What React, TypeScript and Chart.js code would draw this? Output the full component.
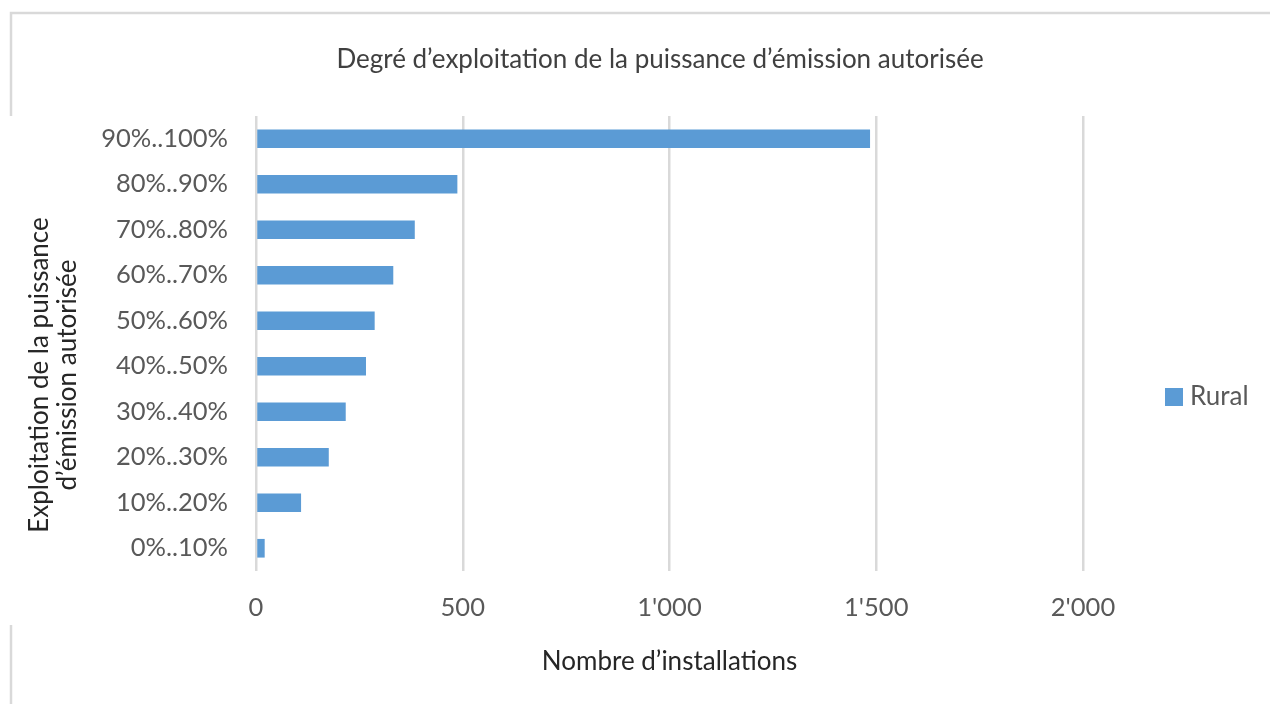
import React, { useEffect, useRef } from "react";
import { Chart, registerables } from "chart.js";

Chart.register(...registerables);

const chartTitle = "Degré d’exploitation de la puissance d’émission autorisée";
const xAxisTitle = "Nombre d’installations";
const yAxisTitleLines = ["Exploitation de la puissance", "d’émission autorisée"];
const seriesLabel = "Rural";

const categories = [
  "0%..10%",
  "10%..20%",
  "20%..30%",
  "30%..40%",
  "40%..50%",
  "50%..60%",
  "60%..70%",
  "70%..80%",
  "80%..90%",
  "90%..100%",
];
const ruralValues = [21, 109, 176, 217, 266, 287, 332, 384, 487, 1485];
const xTickValues = [0, 500, 1000, 1500, 2000];

const FONT = "Lato, 'Open Sans', sans-serif";
const BAR_COLOR = "#5B9BD5";
const GRID_COLOR = "#D9D9D9";

function formatThousands(v: number): string {
  return String(Math.round(v)).replace(/\B(?=(\d{3})+(?!\d))/g, "'");
}

const decorPlugin = {
  id: "decor",
  beforeDraw(chart: any) {
    const ctx = chart.ctx;
    ctx.save();
    ctx.fillStyle = "#FFFFFF";
    ctx.fillRect(0, 0, chart.width, chart.height);
    ctx.strokeStyle = GRID_COLOR;
    ctx.lineWidth = 2.5;
    ctx.beginPath();
    ctx.moveTo(11, 116);
    ctx.lineTo(11, 13);
    ctx.lineTo(chart.width, 13);
    ctx.moveTo(11, 625);
    ctx.lineTo(11, chart.height);
    ctx.stroke();
    ctx.restore();
  },
  afterDraw(chart: any) {
    const ctx = chart.ctx;
    ctx.save();
    // chart title
    ctx.fillStyle = "#404040";
    ctx.font = `26px ${FONT}`;
    ctx.textAlign = "center";
    ctx.textBaseline = "middle";
    ctx.fillText(chartTitle, 660, 60);
    // y axis title (two lines, rotated)
    ctx.fillStyle = "#262626";
    ctx.font = `26px ${FONT}`;
    ctx.translate(0, 375);
    ctx.rotate(-Math.PI / 2);
    ctx.fillText(yAxisTitleLines[0], 0, 40);
    ctx.fillText(yAxisTitleLines[1], 0, 68);
    ctx.restore();
    // legend
    ctx.save();
    const ds = chart.data.datasets[0];
    ctx.fillStyle = ds.backgroundColor;
    ctx.fillRect(1165, 388, 18, 18);
    ctx.fillStyle = "#595959";
    ctx.font = `26px ${FONT}`;
    ctx.textAlign = "left";
    ctx.textBaseline = "middle";
    ctx.fillText(ds.label, 1190, 397);
    ctx.restore();
  },
};

export default function App() {
  const canvasRef = useRef<HTMLCanvasElement | null>(null);

  useEffect(() => {
    if (!canvasRef.current) return;
    const chart = new Chart(canvasRef.current, {
      type: "bar",
      data: {
        labels: categories,
        datasets: [
          {
            label: seriesLabel,
            data: ruralValues,
            backgroundColor: BAR_COLOR,
            borderWidth: 0,
            barPercentage: 0.41,
            categoryPercentage: 1,
          },
        ],
      },
      options: {
        indexAxis: "y",
        animation: false,
        responsive: false,
        maintainAspectRatio: false,
        layout: { padding: { left: 0, right: 187, top: 116, bottom: 0 } },
        plugins: {
          legend: { display: false },
          title: { display: false },
          tooltip: { enabled: false },
        },
        scales: {
          x: {
            type: "linear",
            min: 0,
            max: 2000,
            afterBuildTicks(scale: any) {
              scale.ticks = xTickValues.map((v) => ({ value: v }));
            },
            afterFit(scale: any) {
              scale.height = 704 - 571;
            },
            grid: {
              color: GRID_COLOR,
              lineWidth: 2.5,
              drawTicks: false,
            },
            border: { display: false },
            ticks: {
              color: "#595959",
              font: { family: FONT, size: 25.5 },
              padding: 21,
              callback: (v: any) => formatThousands(Number(v)),
            },
            title: {
              display: true,
              text: xAxisTitle,
              color: "#262626",
              font: { family: FONT, size: 26 },
              padding: { top: 27, bottom: 27 },
            },
          },
          y: {
            type: "category",
            reverse: true,
            afterFit(scale: any) {
              scale.width = 256;
            },
            grid: { display: false, drawTicks: false },
            border: { display: false },
            ticks: {
              color: "#595959",
              font: { family: FONT, size: 25.5 },
              padding: 28,
            },
          },
        },
      },
      plugins: [decorPlugin],
    });
    return () => chart.destroy();
  }, []);

  return (
    <div style={{ position: "absolute", left: 0, top: 0, width: 1270, height: 704, background: "#fff" }}>
      <canvas ref={canvasRef} width={1270} height={704} style={{ width: 1270, height: 704, display: "block" }} />
    </div>
  );
}
